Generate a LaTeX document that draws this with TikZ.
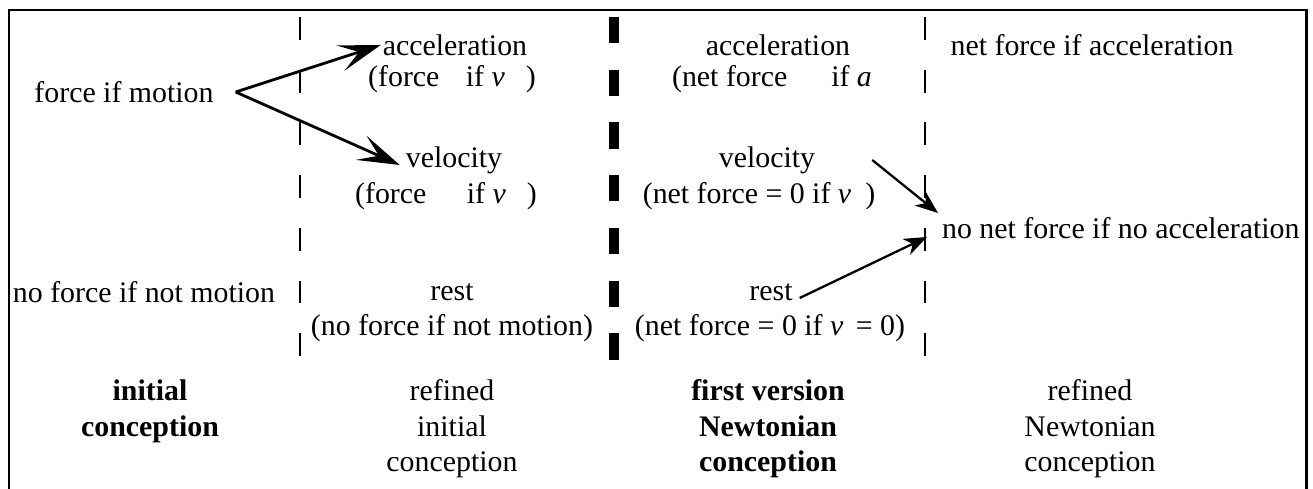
\documentclass[tikz,border=0pt]{standalone}
\usepackage{fontspec}
\setmainfont{Liberation Serif}
\usetikzlibrary{arrows.meta}
\begin{document}
\begin{tikzpicture}[
    x=0.02cm, y=-0.02cm,
    every node/.style={font=\fontsize{17}{20.3}\selectfont, inner sep=1pt},
    txt/.style={align=center},
    hd/.style={align=center, font=\fontsize{17}{20.3}\selectfont\bfseries},
    big arrow/.style={line width=1.6pt, -{Stealth[length=24pt, width=15pt, inset=11pt]}},
    small arrow/.style={line width=1.3pt, -{Stealth[length=13pt, width=10pt, inset=4pt]}},
    thin dash/.style={line width=1.1pt, dash pattern=on 13pt off 17pt},
    thick dash/.style={line width=5.7pt, dash pattern=on 15pt off 15pt}
]
    \useasboundingbox (0,0) rectangle (1313,489);
    % frame, open at the bottom
    \draw[line width=1.7pt] (9,489) -- (9,10) -- (1306,10) -- (1306,489);

    % column dividers
    \draw[thin dash]  (300,17) -- (300,362);
    \draw[thick dash] (614,17) -- (614,366);
    \draw[thin dash]  (925,17) -- (925,362);

    % initial conception
    \node (forcemotion) at (124,92)  {force if motion};
    \node (noforce)     at (144,292) {no force if not motion};
    \node[hd] (initialhd) at (150,411) {initial\\conception};

    % refined initial conception
    \node (acctwo)    at (455,45)  {acceleration};
    \node (acctwoeq)  at (452,79)  {(force\hspace{15pt}if \textit{v}\hspace{12pt})};
    \node (veltwo)    at (454,160) {velocity};
    \node (veltwoeq)  at (446,196) {(force\hspace{23pt}if \textit{v}\hspace{12pt})};
    \node (resttwo)   at (452,292) {rest};
    \node (resttwoeq) at (452,328) {(no force if not motion)};
    \node[txt] (refinedinit) at (452,429) {refined\\initial\\conception};

    % first version Newtonian conception
    \node (accthree)    at (778,45)  {acceleration};
    \node (accthreeeq)  at (772,79)  {(net force\hspace{25pt}if \textit{a}};
    \node (velthree)    at (767,160) {velocity};
    \node (velthreeeq)  at (759,196) {(net force = 0 if \textit{v}\hspace{8pt})};
    \node (restthree)   at (771,292) {rest};
    \node (restthreeeq) at (770,328) {(net force = 0 if \textit{v}\, = 0)};
    \node[hd] (firstnewton) at (768,429) {first version\\Newtonian\\conception};

    % refined Newtonian conception
    \node (netforce) at (1092,45) {net force if acceleration};
    \node[anchor=west] (nonet) at (940,228) {no net force if no acceleration};
    \node[txt] (refinednewton) at (1090,429) {refined\\Newtonian\\conception};

    \draw[big arrow] ([shift={(20,0)}]forcemotion.east) -- (acctwo.west);
    \draw[big arrow] ([shift={(20,0)}]forcemotion.east) -- ([shift={(-4,5)}]veltwo.west);
    \draw[small arrow] ([shift={(55,0)}]velthree.east) -- ([shift={(-2,-15)}]nonet.west);
    \draw[small arrow] ([shift={(5,6)}]restthree.east) -- ([shift={(-13,9)}]nonet.west);
\end{tikzpicture}
\end{document}
